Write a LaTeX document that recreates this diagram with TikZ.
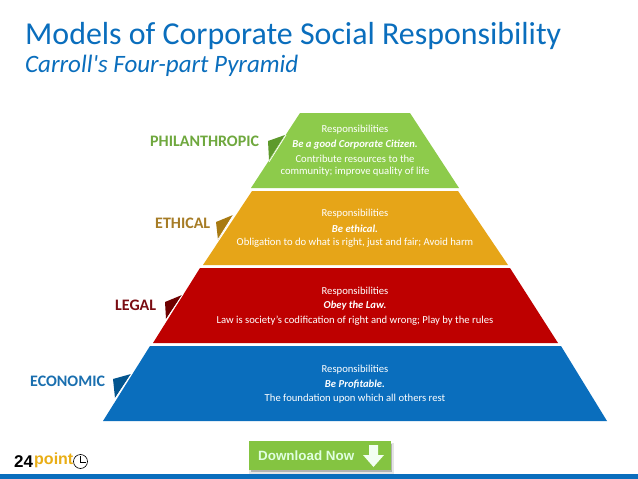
\documentclass[tikz,border=0pt]{standalone}
\usepackage{fontspec}
\setmainfont{Carlito}
\newfontfamily\plainsub{Carlito}
\newfontfamily\heros{Liberation Sans}
\usetikzlibrary{calc,shadows}
\definecolor{cblue}{HTML}{0A6EBD}
\definecolor{cbluedk}{HTML}{03558F}
\definecolor{cred}{HTML}{BE0000}
\definecolor{creddk}{HTML}{6E0000}
\definecolor{corange}{HTML}{E6A518}
\definecolor{corangedk}{HTML}{A87A12}
\definecolor{cgreen}{HTML}{8DCB4B}
\definecolor{cgreendk}{HTML}{5E9A2C}
\definecolor{cbtn}{HTML}{84C441}
\definecolor{ltitle}{HTML}{6FA83E}
\definecolor{lethical}{HTML}{A67C26}
\definecolor{llegal}{HTML}{7A0C12}
\definecolor{leco}{HTML}{1A6FAF}
\tikzset{
 x=1pt,y=-1pt,
 body/.style={text=white,font=\fontsize{10.65}{12}\selectfont,inner sep=0pt,anchor=center},
 ital/.style={body,font=\fontsize{10.65}{12}\selectfont\itshape\bfseries},
 lab/.style={font=\fontsize{16}{18}\selectfont\bfseries,inner sep=0pt},
 sep/.style={draw=white,line width=0.7pt}
}
\begin{document}
\begin{tikzpicture}
\useasboundingbox (0,0) rectangle (638,479);
\fill[white] (0,0) rectangle (638,479);
% title
\node[anchor=base west,inner sep=0pt,text=cblue,font=\fontsize{31.9}{34}\selectfont] (title) at (25,45) {Models of Corporate Social Responsibility};
\node[anchor=base west,inner sep=0pt,text=cblue,font=\plainsub\fontsize{25}{28}\selectfont\itshape] (subtitle) at (25,72) {Carroll's Four-part Pyramid};
% flaps
\fill[cgreendk] (268,141)--(285,135)--(269,160)--cycle;
\fill[corangedk] (216,222)--(233,215)--(218,240)--cycle;
\fill[creddk] (165,302)--(182,295)--(166,319)--cycle;
\fill[cbluedk] (113,379)--(131,374)--(115,398)--cycle;
% tiers
\fill[cgreen] (300,113)--(410,113)--(459,188)--(251,188)--cycle;
\fill[corange] (252,191)--(458,191)--(508,265)--(203,265)--cycle;
\fill[cred] (200,268)--(510,268)--(558,343)--(153,343)--cycle;
\fill[cblue] (150,346)--(561,346)--(607,421)--(103,421)--cycle;
\draw[sep] (286,135)--(269,162);
\draw[sep] (234,214)--(217,241);
\draw[sep] (183,294)--(166,320);
\draw[sep] (132,373)--(115,399);
% labels
\node[lab,text=ltitle,anchor=base west] (lphil) at (150,146) {PHILANTHROPIC};
\node[lab,text=lethical,anchor=base west] (leth) at (155,228) {ETHICAL};
\node[lab,text=llegal,anchor=base west] (lleg) at (115,310) {LEGAL};
\node[lab,text=leco,anchor=base west] (lecon) at (30,386) {ECONOMIC};
% green text
\node[body] (g1) at (355,130) {Responsibilities};
\node[ital] (g2) at (355,145) {Be a good Corporate Citizen.};
\node[body] (g3) at (355,159) {Contribute resources to the};
\node[body] (g4) at (355,172) {community; improve quality of life};
% orange text
\node[body] (o1) at (355,214) {Responsibilities};
\node[ital] (o2) at (355,229) {Be ethical.};
\node[body] (o3) at (355,243) {Obligation to do what is right, just and fair; Avoid harm};
% red text
\node[body] (r1) at (355,292) {Responsibilities};
\node[ital] (r2) at (355,306) {Obey the Law.};
\node[body] (r3) at (355,321) {Law is society's codification of right and wrong; Play by the rules};
% blue text
\node[body] (b1) at (355,370) {Responsibilities};
\node[ital] (b2) at (355,384) {Be Profitable.};
\node[body] (b3) at (355,399) {The foundation upon which all others rest};
% button
\fill[black!10] (249,443) rectangle (394,474);
\fill[black!30] (251,444) rectangle (392,472);
\fill[cbtn] (249,441) rectangle (391,470);
\node[anchor=base west,inner sep=0pt,text=white!88!green,font=\heros\fontsize{13.4}{15}\selectfont\bfseries] (dl) at (258,460) {Download Now};
\fill[white!95!green] (369,445)--(378,445)--(378,455)--(384,455)--(373.5,467)--(363,455)--(369,455)--cycle;
% bottom bar
\fill[cblue] (0,474) rectangle (638,479);
% logo
\node[anchor=base west,inner sep=0pt,font=\heros\fontsize{17}{18}\selectfont\bfseries,text=black] (l24) at (14,467.5) {24};
\node[anchor=base west,inner sep=0pt,font=\heros\fontsize{16}{18}\selectfont\bfseries,text=corange!90!yellow] (lpoint) at (34,464) {point};
\draw[black,line width=0.6pt] (80.5,461.5) circle (7);
\draw[black,line width=0.6pt] (80.5,456)--(80.5,462)--(85.5,462);
\end{tikzpicture}
\end{document}
